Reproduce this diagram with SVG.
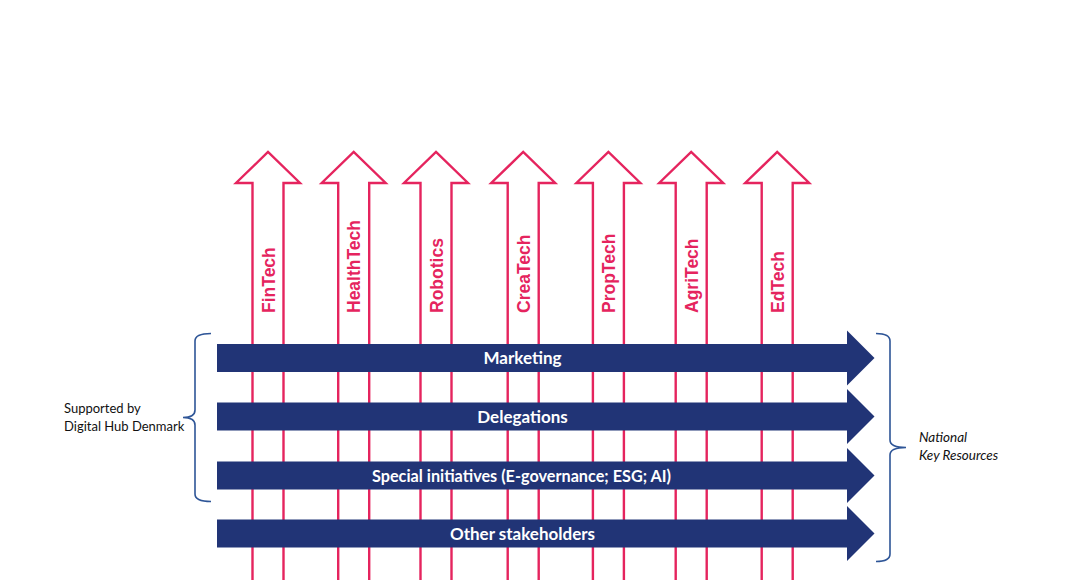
<svg xmlns="http://www.w3.org/2000/svg" xmlns:xlink="http://www.w3.org/1999/xlink" width="1068" height="580" viewBox="0 0 1068 580">
<style>
.up{fill:#fff;stroke:#E5245E;stroke-width:2.4;stroke-linejoin:miter}
.sector{font-family:"Liberation Sans",Arial,sans-serif;font-weight:bold;font-size:17.5px;fill:#E5245E}
.bar{fill:#213476}
.barlbl{font-family:Lato,"Open Sans",sans-serif;font-weight:bold;font-size:17px;fill:#fff;text-anchor:middle}
.brace{fill:none;stroke:#2E5597;stroke-width:1.6}
.side{font-family:Lato,"Open Sans",sans-serif;font-size:13px;fill:#111}
.ital{font-style:italic;font-size:13.5px}
</style>
<defs>
<path id="uparrow" class="up" d="M-15.5,595 L-15.5,183 L-32,183 L0,152 L32,183 L15.5,183 L15.5,595"/>
<path id="rarrow" class="bar" d="M217,-14 L847,-14 L847,-27.5 L874.5,0 L847,27.5 L847,14 L217,14 Z"/>
</defs>
<rect width="1068" height="580" fill="#fff"/>
<g id="sectors">
<g id="fintech"><use xlink:href="#uparrow" x="268" y="0"/><text class="sector" transform="translate(274.5,313) rotate(-90)">FinTech</text></g>
<g id="healthtech"><use xlink:href="#uparrow" x="353.7" y="0"/><text class="sector" transform="translate(360.2,313) rotate(-90)">HealthTech</text></g>
<g id="robotics"><use xlink:href="#uparrow" x="436" y="0"/><text class="sector" transform="translate(442.5,313) rotate(-90)">Robotics</text></g>
<g id="createch"><use xlink:href="#uparrow" x="523.2" y="0"/><text class="sector" transform="translate(529.7,313) rotate(-90)">CreaTech</text></g>
<g id="proptech"><use xlink:href="#uparrow" x="608.4" y="0"/><text class="sector" transform="translate(614.9,313) rotate(-90)">PropTech</text></g>
<g id="agritech"><use xlink:href="#uparrow" x="691.2" y="0"/><text class="sector" transform="translate(697.7,313) rotate(-90)">AgriTech</text></g>
<g id="edtech"><use xlink:href="#uparrow" x="777.2" y="0"/><text class="sector" transform="translate(783.7,313) rotate(-90)">EdTech</text></g>
</g>
<g id="marketing"><use xlink:href="#rarrow" y="358"/><text class="barlbl" x="522.5" y="364">Marketing</text></g>
<g id="delegations"><use xlink:href="#rarrow" y="416.5"/><text class="barlbl" x="522.5" y="422.5">Delegations</text></g>
<g id="special"><use xlink:href="#rarrow" y="475.5"/><text class="barlbl" x="521.5" y="481.5" textLength="299" lengthAdjust="spacingAndGlyphs">Special initiatives (E-governance; ESG; AI)</text></g>
<g id="other"><use xlink:href="#rarrow" y="533.5"/><text class="barlbl" x="522.5" y="539.5">Other stakeholders</text></g>
<g id="connectors">
<path class="brace" d="M211,333.5 Q195,333.5 195,341 L195,410 Q195,417.5 183,417.5 Q195,417.5 195,425 L195,494 Q195,501.5 211,501.5"/>
<path class="brace" d="M876,333.5 Q890,333.5 890,341 L890,440 Q890,447.5 906,447.5 Q890,447.5 890,455 L890,554 Q890,561.5 876,561.5"/>
</g>
<g id="supported"><text class="side" x="64" y="413">Supported by</text><text class="side" x="64" y="431">Digital Hub Denmark</text></g>
<g id="national"><text class="side ital" x="919" y="442">National</text><text class="side ital" x="919" y="460">Key Resources</text></g>
</svg>
